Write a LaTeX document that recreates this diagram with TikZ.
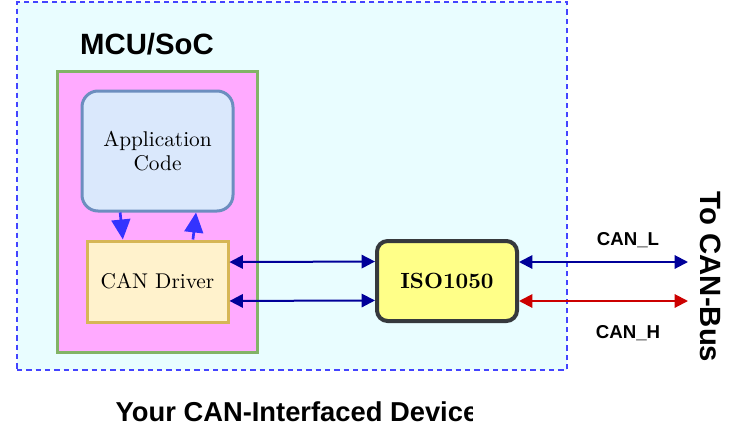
\documentclass[tikz,border=0pt]{standalone}
\usepackage{fontspec}
\newfontfamily\headfont{Liberation Sans}
\newfontfamily\boxfont{lmroman10-regular}[Extension=.otf, BoldFont=lmroman10-bold]
\usepackage{tikz}
\usetikzlibrary{arrows.meta}

\definecolor{devfill}{HTML}{E9FDFF}
\definecolor{devline}{HTML}{4444FF}
\definecolor{mcufill}{HTML}{FFAAFF}
\definecolor{mculine}{HTML}{82B366}
\definecolor{appfill}{HTML}{DAE8FC}
\definecolor{appline}{HTML}{6C8EBF}
\definecolor{drvfill}{HTML}{FFF2CC}
\definecolor{drvline}{HTML}{D6B656}
\definecolor{isofill}{HTML}{FFFF88}
\definecolor{isoline}{HTML}{36393D}
\definecolor{ctrlblue}{HTML}{3333FF}
\definecolor{sigblue}{HTML}{000099}
\definecolor{canred}{HTML}{CC0000}

\begin{document}
\begin{tikzpicture}[x=0.75pt, y=-0.75pt,
  box/.style={draw, line width=2.25pt, inner sep=0pt, align=center,
    font=\boxfont\fontsize{16}{18}\selectfont},
  head/.style={font=\headfont\bfseries\fontsize{#1}{#1}\selectfont},
  ctrl/.style={draw=ctrlblue, line width=2pt, -{Triangle[length=15pt,width=14pt]}},
  sig/.style={draw=#1, line width=1.5pt, >={Triangle[length=10pt,width=10pt]}, <->}]
\useasboundingbox (0,0) rectangle (735,432);

\node [draw=devline, fill=devfill, line width=1.1pt, dash pattern=on 4pt off 3pt,
  minimum width=412.5pt, minimum height=276pt] (device) at (292,186) {};
\node [head=22] (mcutitle) at (147,44) {MCU/SoC};

\node [box, draw=mculine, fill=mcufill, minimum width=150pt, minimum height=210.75pt] (mcu) at (157,211.5) {};
\node [box, draw=appline, fill=appfill, rounded corners=12pt,
  minimum width=113.25pt, minimum height=90pt] (app) at (157.5,151) {Application\\Code};
\node [box, draw=drvline, fill=drvfill, minimum width=105.75pt, minimum height=60.75pt] (driver) at (157.5,281.5) {CAN Driver};
\node [box, draw=isoline, fill=isofill, line width=3pt, rounded corners=8pt,
  minimum width=105pt, minimum height=60pt, font=\boxfont\bfseries\fontsize{16.5}{18}\selectfont] (iso) at (447,281) {ISO1050};

\draw [ctrl] ([xshift=-28pt]app.south) -- ([xshift=-26pt]driver.north);
\draw [ctrl] ([xshift=26.6pt]driver.north) -- ([xshift=28.9pt]app.south);

\draw [sig=sigblue] ([yshift=14.6pt]driver.east) -- ([yshift=14.6pt]iso.west);
\draw [sig=sigblue] ([yshift=-14.6pt]driver.east) -- ([yshift=-14.6pt]iso.west);

\coordinate (canl) at (688,262);
\coordinate (canh) at (688,301);
\draw [sig=sigblue] (iso.east |- canl) -- (canl);
\draw [sig=canred] (iso.east |- canh) -- (canh);

\node [head=14] (canltext) at (628,240) {CAN\_L};
\node [head=14] (canhtext) at (628,333) {CAN\_H};
\node [head=22, rotate=-90] (bustext) at (711,277) {To CAN-Bus};

\begin{scope}
\clip (0,380) rectangle (472,432);
\node [head=20.5] (devtext) at (297,412) {Your CAN-Interfaced Device};
\end{scope}

\end{tikzpicture}
\end{document}
